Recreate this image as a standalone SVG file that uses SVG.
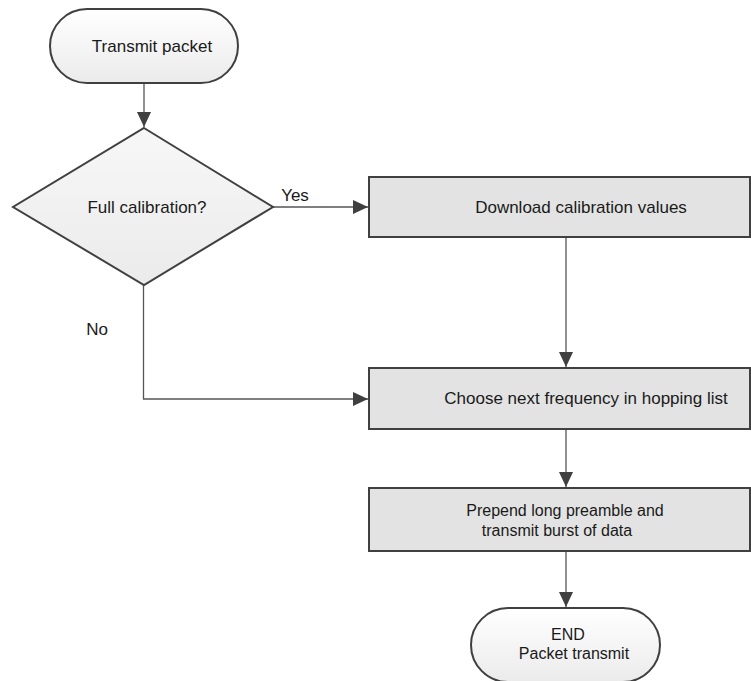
<svg xmlns="http://www.w3.org/2000/svg" width="751" height="681" viewBox="0 0 751 681">
<style>
.shape{stroke:#404040;stroke-width:2}
.term{fill:url(#gt)}
.proc{fill:#e3e3e3}
.dec{fill:url(#gd)}
.conn{fill:none;stroke:#555;stroke-width:1.3}
text{font-family:"Liberation Sans",Arial,sans-serif;font-size:17px;fill:#1a1a1a;text-anchor:middle}
.tight{font-size:16px}
</style>
<defs>
<linearGradient id="gt" x1="0" y1="0" x2="0" y2="1">
<stop offset="0" stop-color="#ffffff"/>
<stop offset="1" stop-color="#ebebeb"/>
</linearGradient>
<linearGradient id="gd" x1="0" y1="0" x2="0" y2="1">
<stop offset="0" stop-color="#f7f7f7"/>
<stop offset="1" stop-color="#ebebeb"/>
</linearGradient>
<marker id="arr" viewBox="0 0 15 14" refX="15" refY="7" markerWidth="15" markerHeight="14" markerUnits="userSpaceOnUse" orient="auto">
<path d="M0,0 L15,7 L0,14 Z" fill="#404040"/>
</marker>
</defs>
<g id="connectors">
<path class="conn" d="M144,83 V127" marker-end="url(#arr)"/>
<path class="conn" d="M273,207 H368" marker-end="url(#arr)"/>
<path class="conn" d="M566,237 V367" marker-end="url(#arr)"/>
<path class="conn" d="M143.5,285 V399 H368" marker-end="url(#arr)"/>
<path class="conn" d="M566,429 V487" marker-end="url(#arr)"/>
<path class="conn" d="M566,551 V607" marker-end="url(#arr)"/>
<text x="295" y="201">Yes</text>
<text x="97" y="335">No</text>
</g>
<g id="start">
<rect class="shape term" x="50" y="9" width="188" height="74" rx="37" ry="37"/>
<text x="152" y="52">Transmit packet</text>
</g>
<g id="decision">
<polygon class="shape dec" points="144,128 273,207 144,285 13,207"/>
<text x="147" y="213">Full calibration?</text>
</g>
<g id="download">
<rect class="shape proc" x="369" y="177" width="381" height="60"/>
<text x="581" y="213">Download calibration values</text>
</g>
<g id="choose">
<rect class="shape proc" x="369" y="368" width="381" height="61"/>
<text x="586" y="404">Choose next frequency in hopping list</text>
</g>
<g id="prepend">
<rect class="shape proc" x="369" y="488" width="381" height="63"/>
<text class="tight" x="565" y="516">Prepend long preamble and</text>
<text class="tight" x="557" y="536">transmit burst of data</text>
</g>
<g id="end">
<rect class="shape term" x="471" y="608" width="189" height="74" rx="37" ry="37"/>
<text class="tight" x="568" y="640">END</text>
<text class="tight" x="574" y="659">Packet transmit</text>
</g>
</svg>
